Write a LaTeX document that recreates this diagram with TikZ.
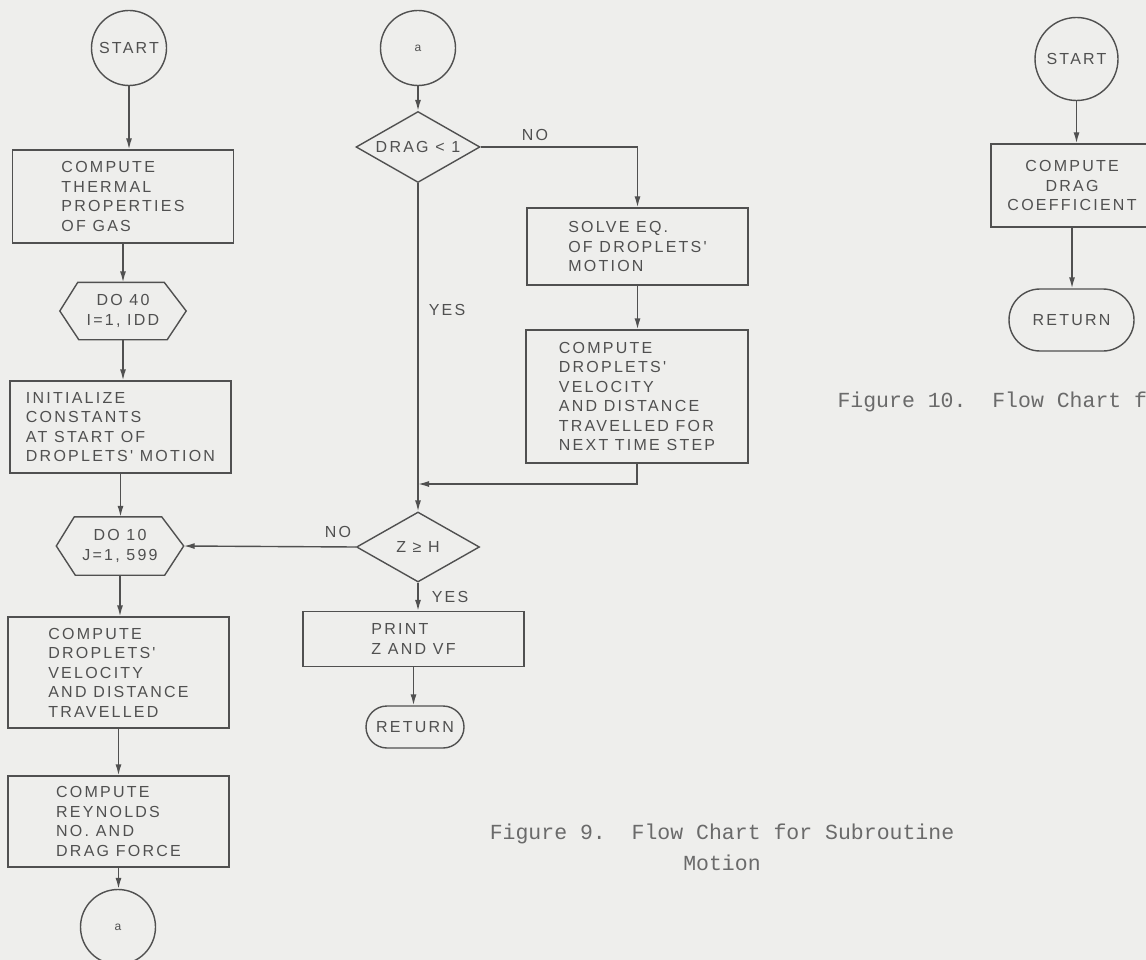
\documentclass[tikz,border=0pt]{standalone}
\usepackage{fontspec}
\newfontfamily\flowfont{Liberation Sans}[LetterSpace=14]
\newfontfamily\capfont{Liberation Mono}
\usetikzlibrary{shapes.geometric,shapes.misc,arrows.meta}
\definecolor{paper}{RGB}{238,238,236}
\definecolor{ink}{RGB}{80,80,80}
\begin{document}
\begin{tikzpicture}[x=1pt,y=-1pt,
  every node/.style={font=\flowfont\fontsize{16}{19.5}\selectfont,text=ink},
  line/.style={draw=ink,line width=1.4pt},
  arrow/.style={line,-{Latex[length=11pt,width=6pt]}},
  box/.style={line,rectangle,align=left,minimum width=221pt,inner sep=0pt},
  conn/.style={line,circle,minimum size=75pt,inner sep=0pt},
  term/.style={line,rounded rectangle,inner sep=0pt},
  decision/.style={line,diamond,aspect=2,inner sep=0pt,minimum width=124pt,minimum height=71pt},
  loopbox/.style={minimum width=126pt,minimum height=57pt,inner sep=0pt,align=center},
  caption/.style={font=\capfont\fontsize{21.5}{31}\selectfont,align=center,text=ink!85}]
\useasboundingbox (0,0) rectangle (1146,960);
\clip (0,0) rectangle (1146,960);
\fill[paper] (0,0) rectangle (1146,960);

\node[conn] (start1) at (129,48) {START};
\node[box,minimum height=93pt] (box1) at (123,196.5) {COMPUTE\\THERMAL\\PROPERTIES\\OF GAS};
\node[loopbox] (hex1) at (123,311) {DO 40\\I=1, IDD};
\node[box,minimum height=92pt] (box2) at (120.5,427) {INITIALIZE\\CONSTANTS\\AT START OF\\DROPLETS' MOTION};
\node[loopbox,minimum width=127pt,minimum height=58pt] (hex2) at (120,546) {DO 10\\J=1, 599};
\node[box,minimum height=111pt] (box3) at (118.5,672.5) {COMPUTE\\DROPLETS'\\VELOCITY\\AND DISTANCE\\TRAVELLED};
\node[box,minimum height=91pt] (box4) at (118.5,821.5) {COMPUTE\\REYNOLDS\\NO. AND\\DRAG FORCE};
\node[conn] (a1) at (118,927) {\fontsize{12}{14}\selectfont a};

\node[conn] (a2) at (418,48) {\fontsize{12}{14}\selectfont a};
\node[decision] (drag) at (418,147) {DRAG < 1};
\node[box,minimum height=77pt] (solve) at (637.5,246.5) {SOLVE EQ.\\OF DROPLETS'\\MOTION};
\node[box,minimum width=222pt,minimum height=133pt] (velo) at (637,396.5) {COMPUTE\\DROPLETS'\\VELOCITY\\AND DISTANCE\\TRAVELLED FOR\\NEXT TIME STEP};
\node[decision,minimum width=123pt,minimum height=70pt] (zh) at (418,547) {Z ≥ H};
\node[box,minimum height=55pt] (print) at (413.5,639) {PRINT\\Z AND VF};
\node[term,minimum width=98pt,minimum height=42pt] (ret1) at (415,727) {RETURN};
\coordinate (join) at (418,484);

\node (no1) at (535,135) {NO};
\node (yes1) at (447,310) {YES};
\node (no2) at (338,532) {NO};
\node (yes2) at (450,597) {YES};

\node[conn,minimum size=83pt] (start2) at (1076.5,59) {START};
\node[box,align=center,minimum width=162pt,minimum height=83pt] (dragc) at (1072,185.5) {COMPUTE\\DRAG\\COEFFICIENT};
\node[term,minimum width=125pt,minimum height=62pt] (ret2) at (1071.5,320) {RETURN};

\foreach \h in {hex1,hex2}
  \draw[line] (\h.west) -- ([xshift=18pt]\h.north west) -- ([xshift=-22pt]\h.north east)
    -- (\h.east) -- ([xshift=-19pt]\h.south east) -- ([xshift=19pt]\h.south west) -- cycle;

\foreach \a/\b in {start1/box1,box1/hex1,hex1/box2,box2/hex2,hex2/box3,box3/box4,box4/a1,
                   a2/drag,solve/velo,zh/print,print/ret1,start2/dragc,dragc/ret2}
  \draw[arrow] (\a.south) -- (\a.south |- \b.north);
\draw[arrow] (drag.east) -| (solve.north);
\draw[arrow] (velo.south) |- (join);
\draw[arrow] (drag.south) -- (zh.north);
\draw[arrow] (zh.west) -- (hex2.east);

\node[caption] (cap9) at (722,847) {Figure 9.\ \ Flow Chart for Subroutine\\Motion};
\node[caption,anchor=west] (cap10) at (834,402) {Figure 10.\ \ Flow Chart for};
\end{tikzpicture}
\end{document}
